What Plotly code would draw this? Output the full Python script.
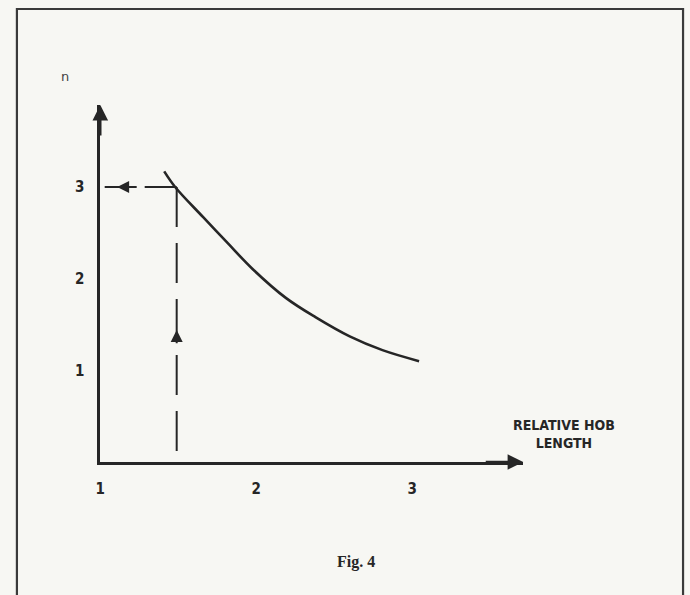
import plotly.graph_objects as go

# ---- data ----
curve_x = [1.41, 1.48, 1.66, 1.81, 1.98, 2.19, 2.38, 2.60, 2.81, 3.045]
curve_y = [3.17, 3.00, 2.67, 2.40, 2.10, 1.79, 1.58, 1.37, 1.22, 1.10]
design_x = 1.49          # chosen relative hob length (dashed guide)
design_n = 3.0           # resulting n
x_ticks = [1, 2, 3]
y_ticks = [1, 2, 3]
x_range = [1, 3.713]
y_range = [0, 3.894]

W, H = 690, 595
INK = "#262626"
BG = "#f7f7f3"
COND = "Liberation Sans Narrow, DejaVu Sans Condensed, Arial Narrow, sans-serif"

fig = go.Figure()

# curve
fig.add_trace(go.Scatter(x=curve_x, y=curve_y, mode="lines",
                         line=dict(color=INK, width=2.6, shape="spline", smoothing=1.0),
                         hoverinfo="skip", showlegend=False, cliponaxis=False))
# dashed guides
fig.add_trace(go.Scatter(x=[design_x, design_x], y=[design_n, 0], mode="lines",
                         line=dict(color=INK, width=2, dash="40px,16px"),
                         hoverinfo="skip", showlegend=False, cliponaxis=False))
fig.add_trace(go.Scatter(x=[design_x, x_range[0]], y=[design_n, design_n], mode="lines",
                         line=dict(color=INK, width=2, dash="32px,8px"),
                         hoverinfo="skip", showlegend=False, cliponaxis=False))

# axis arrows
fig.add_annotation(x=x_range[1], y=0, ax=x_range[1] - 0.25, ay=0, xref="x", yref="y",
                   axref="x", ayref="y", showarrow=True, arrowhead=2, arrowsize=1.3,
                   arrowwidth=2.4, arrowcolor=INK, text="", standoff=0)
fig.add_annotation(x=x_range[0], y=y_range[1], ax=x_range[0], ay=y_range[1] - 0.35, xref="x",
                   yref="y", axref="x", ayref="y", showarrow=True, arrowhead=2, arrowsize=1.3,
                   arrowwidth=2.4, arrowcolor=INK, text="", standoff=0)
# guide arrows
fig.add_annotation(x=1.108, y=design_n, ax=1.19, ay=design_n, xref="x", yref="y",
                   axref="x", ayref="y", showarrow=True, arrowhead=2, arrowsize=1.2,
                   arrowwidth=2, arrowcolor=INK, text="", standoff=0)
fig.add_annotation(x=design_x, y=1.44, ax=design_x, ay=1.28, xref="x", yref="y",
                   axref="x", ayref="y", showarrow=True, arrowhead=2, arrowsize=1.2,
                   arrowwidth=2, arrowcolor=INK, text="", standoff=0)

# texts
fig.add_annotation(x=60 / W, y=1 - 76 / H, xref="paper", yref="paper", text="n",
                   xanchor="center", yanchor="middle",
                   showarrow=False, font=dict(family="DejaVu Sans, sans-serif", size=13, color="#444"))
fig.add_annotation(x=563 / W, y=1 - 434 / H, xref="paper", yref="paper",
                   text="RELATIVE HOB<br>LENGTH", showarrow=False, align="center",
                   xanchor="center", yanchor="middle",
                   font=dict(family=COND, size=14, color=INK, weight="bold"))
fig.add_annotation(x=354 / W, y=1 - 562 / H, xref="paper", yref="paper", text="Fig. 4",
                   xanchor="center", yanchor="middle", showarrow=False,
                   font=dict(family="Liberation Serif, DejaVu Serif, serif", size=16, color=INK, weight="bold"))

# frame
fig.add_shape(type="rect", xref="paper", yref="paper", x0=12 / W, x1=683 / W,
              y0=-0.05, y1=1 - 9 / H, line=dict(color="#3a3a3a", width=2.2))

fig.update_layout(
    width=W, height=H, margin=dict(l=0, r=0, t=0, b=0),
    paper_bgcolor=BG, plot_bgcolor="rgba(0,0,0,0)",
    xaxis=dict(domain=[96 / W, 522 / W], range=x_range, showgrid=False, zeroline=False,
               showline=True, linecolor=INK, linewidth=2.6, tickvals=x_ticks, ticks="",
               ticklabelstandoff=11,
               tickfont=dict(family=COND, size=15, color=INK, weight="bold")),
    yaxis=dict(domain=[1 - 462 / H, 1 - 105 / H], range=y_range, showgrid=False, zeroline=False,
               showline=True, linecolor=INK, linewidth=2.6, tickvals=y_ticks, ticks="",
               ticklabelstandoff=10,
               tickfont=dict(family=COND, size=15, color=INK, weight="bold")),
)

fig.write_html("out.html", config={"displayModeBar": False},
               post_script="document.body.style.margin='0';document.body.style.overflow='hidden';"
                           "document.body.style.background='" + BG + "';")
